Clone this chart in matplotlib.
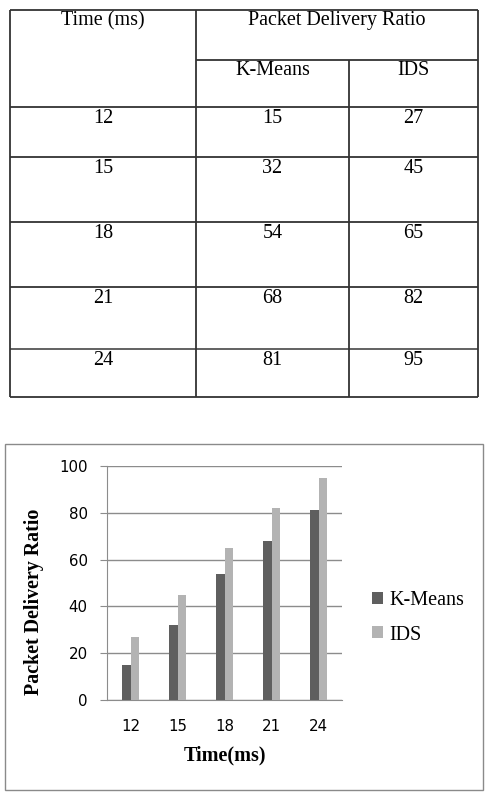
import matplotlib
matplotlib.use("Agg")
import matplotlib.pyplot as plt
import numpy as np
from matplotlib.patches import Rectangle

times = [12, 15, 18, 21, 24]
kmeans = [15, 32, 54, 68, 81]
ids = [27, 45, 65, 82, 95]
series_names = ["K-Means", "IDS"]
yticks = [0, 20, 40, 60, 80, 100]

SERIF = "Liberation Serif"
SANS = "DejaVu Sans"
KM_COL = "#5f5f5f"
IDS_COL = "#b3b3b3"
GRID = "#8c8c8c"
RULE = "#333333"

W, H = 492, 798
fig = plt.figure(figsize=(W / 100, H / 100), dpi=100)

# overlay axes in pixel coordinates for the table and the chart frame
ov = fig.add_axes([0, 0, 1, 1], zorder=0)
ov.set_xlim(0, W)
ov.set_ylim(H, 0)
ov.axis("off")


def hline(y, x0, x1, color=RULE, lw=1.3):
    ov.plot([x0, x1], [y, y], color=color, lw=lw, solid_capstyle="butt")


def vline(x, y0, y1, color=RULE, lw=1.3):
    ov.plot([x, x], [y0, y1], color=color, lw=lw, solid_capstyle="butt")


# ---- table ----
xl, xc1, xc2, xr = 10, 196, 349, 478
row_lines = [107, 157, 222, 287, 349, 397]
hline(10, xl, xr)
hline(60, xc1, xr)
for y in row_lines:
    hline(y, xl, xr, color="#555555" if y == 349 else RULE)
vline(xl, 10, 397)
vline(xc1, 10, 397)
vline(xc2, 60, 397)
vline(xr, 10, 397)

tfs = 14.5
ov.text((xl + xc1) / 2, 11, "Time (ms)", ha="center", va="top",
        fontsize=tfs, family=SERIF)
ov.text((xc1 + xr) / 2, 11, "Packet Delivery Ratio", ha="center", va="top",
        fontsize=tfs, family=SERIF)
ov.text((xc1 + xc2) / 2, 61, series_names[0], ha="center", va="top",
        fontsize=tfs, family=SERIF)
ov.text((xc2 + xr) / 2, 61, series_names[1], ha="center", va="top",
        fontsize=tfs, family=SERIF)
for i, (t, k, d) in enumerate(zip(times, kmeans, ids)):
    ytop = row_lines[i] + 2
    ov.text((xl + xc1) / 2, ytop, str(t), ha="center", va="top", fontsize=tfs, family=SERIF)
    ov.text((xc1 + xc2) / 2, ytop, str(k), ha="center", va="top", fontsize=tfs, family=SERIF)
    ov.text((xc2 + xr) / 2, ytop, str(d), ha="center", va="top", fontsize=tfs, family=SERIF)

# ---- chart frame ----
ov.add_patch(Rectangle((5, 444), 478, 346, fill=False, edgecolor="#8a8a8a", lw=1.0))

# ---- bar chart ----
ax = fig.add_axes([107 / W, 1 - 700 / H, 235 / W, 234 / H], zorder=1)
ax.patch.set_alpha(0)
x = np.arange(len(times))
bw = 0.19
ax.bar(x - bw / 2, kmeans, bw, color=KM_COL, label=series_names[0], zorder=3)
ax.bar(x + bw / 2, ids, bw, color=IDS_COL, label=series_names[1], zorder=3)
ax.set_xlim(-0.5, len(times) - 0.5)
ax.set_ylim(0, 100)
ax.set_yticks(yticks)
ax.set_xticks(x)
ax.set_xticklabels([str(t) for t in times])
ax.yaxis.grid(True, color=GRID, lw=1.0, zorder=0)
for s in ["top", "right"]:
    ax.spines[s].set_visible(False)
ax.spines["left"].set_color(GRID)
ax.spines["bottom"].set_color(GRID)
ax.tick_params(axis="y", length=5, color=GRID, pad=9, labelsize=10.8)
ax.tick_params(axis="x", length=0, pad=14, labelsize=10.8)
for lab in ax.get_xticklabels() + ax.get_yticklabels():
    lab.set_family(SANS)

ov.text(34, 602, "Packet Delivery Ratio", rotation=90, ha="center", va="center",
        fontsize=14.4, fontweight="bold", family=SERIF, zorder=5)
ov.text(225, 755, "Time(ms)", ha="center", va="center",
        fontsize=14.5, fontweight="bold", family=SERIF, zorder=5)

fig.legend(loc="center left", bbox_to_anchor=(364 / W, 1 - 618 / H),
           frameon=False, prop={"family": SERIF, "size": 14.5},
           handlelength=0.55, handleheight=0.55, handletextpad=0.3,
           labelspacing=0.75, borderaxespad=0)

fig.savefig("out.png", dpi=100, facecolor="white")
